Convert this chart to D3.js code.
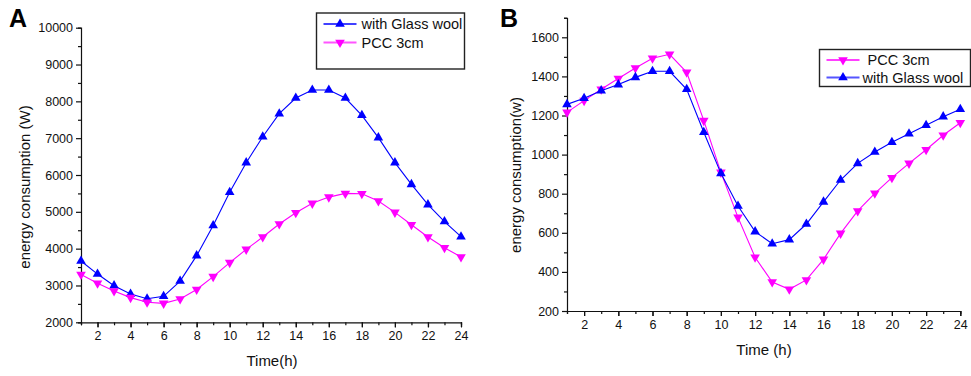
<!DOCTYPE html>
<html>
<head>
<meta charset="utf-8">
<script src="https://cdn.jsdelivr.net/npm/d3@7"></script>
<style>
  body { margin: 0; background: #fff; }
  svg { font-family: "Liberation Sans", Arial, sans-serif; }
</style>
</head>
<body>
<svg id="chart" width="971" height="376"></svg>
<script>
// hours 1..24
var hours = d3.range(1, 25);

// panel A values (W)
var glassA = [3665, 3310, 2995, 2770, 2640, 2705, 3120, 3810, 4630, 5530, 6335, 7040,
  7665, 8090, 8310, 8310, 8090, 7620, 7015, 6335, 5745, 5195, 4735, 4325];
var pccA = [3300, 3060, 2850, 2670, 2545, 2515, 2635, 2890, 3240, 3620, 3980, 4315,
  4670, 4975, 5230, 5400, 5500, 5490, 5295, 4985, 4650, 4315, 4025, 3775];

// panel B values (w)
var pccB = [1216, 1276, 1334, 1389, 1443, 1493, 1513, 1421, 1174, 909, 679, 475,
  348, 311, 359, 464, 597, 712, 802, 882, 955, 1025, 1099, 1163];
var glassB = [1257, 1288, 1327, 1358, 1395, 1426, 1426, 1334, 1114, 904, 737, 606,
  544, 565, 645, 758, 870, 955, 1013, 1063, 1107, 1150, 1194, 1232];

var xTicks = [2, 4, 6, 8, 10, 12, 14, 16, 18, 20, 22, 24];
var yTicksA = [2000, 3000, 4000, 5000, 6000, 7000, 8000, 9000, 10000];
var yTicksB = [200, 400, 600, 800, 1000, 1200, 1400, 1600];

var blue = "#0000ff", magenta = "#ff00ff";
var svg = d3.select("#chart");
var markSize = 40;

function panel(cfg) {
  var g = svg.append("g");
  var x = d3.scaleLinear().domain([1, 24]).range([cfg.x0, cfg.x1]);
  var y = d3.scaleLinear().domain(cfg.yDomain).range([cfg.yBottom, cfg.yTop]);

  // x axis: major ticks labelled, minor on each hour
  var xa = g.append("g").attr("transform", "translate(0," + cfg.yBottom + ")")
    .call(d3.axisBottom(x).tickValues(hours).tickSize(3).tickFormat(""));
  xa.selectAll(".tick line").filter(function(d) { return d % 2 === 0; }).attr("y2", 5);
  g.append("g").attr("transform", "translate(0," + cfg.yBottom + ")")
    .call(d3.axisBottom(x).tickValues(xTicks).tickSize(5).tickPadding(4))
    .call(function(s) { s.select(".domain").remove(); });

  // y axis
  g.append("g").attr("transform", "translate(" + cfg.x0 + ",0)")
    .call(d3.axisLeft(y).tickValues(cfg.yMinor).tickSize(3).tickFormat(""));
  g.append("g").attr("transform", "translate(" + cfg.x0 + ",0)")
    .call(d3.axisLeft(y).tickValues(cfg.yTicks).tickSize(5).tickPadding(3).tickFormat(d3.format("d")))
    .call(function(s) { s.select(".domain").remove(); });

  g.selectAll(".domain, .tick line").attr("stroke", "#111").attr("stroke-width", 1.2);
  g.selectAll(".tick text").attr("font-size", 12.5).attr("fill", "#111")
    .attr("font-family", "Liberation Sans, Arial, sans-serif");

  // series
  cfg.series.forEach(function(s) {
    var line = d3.line().x(function(d, i) { return x(hours[i]); }).y(function(d) { return y(d); });
    g.append("path").datum(s.values).attr("d", line)
      .attr("fill", "none").attr("stroke", s.color).attr("stroke-width", 1.1);
    g.selectAll(null).data(s.values).enter().append("path")
      .attr("d", d3.symbol().type(d3.symbolTriangle).size(markSize))
      .attr("transform", function(d, i) {
        return "translate(" + x(hours[i]) + "," + y(d) + ")" + (s.down ? " rotate(180)" : "");
      })
      .attr("fill", s.color);
  });

  // labels
  g.append("text").attr("x", cfg.labelX).attr("y", 27).attr("font-size", 25)
    .attr("font-weight", "bold").attr("font-family", "Liberation Sans, Arial, sans-serif").text(cfg.letter);
  g.append("text").attr("x", cfg.xTitleX).attr("y", cfg.xTitleY).attr("text-anchor", "middle")
    .attr("font-size", 15).attr("fill", "#111").text(cfg.xTitle);
  g.append("text").attr("transform", "translate(" + cfg.yTitleX + "," + cfg.yTitleY + ") rotate(-90)")
    .attr("text-anchor", "middle").attr("font-size", 15).attr("fill", "#111").text(cfg.yTitle);

  // legend
  var L = cfg.legend;
  g.append("rect").attr("x", L.x).attr("y", L.y).attr("width", L.w).attr("height", L.h)
    .attr("fill", "#fff").attr("stroke", "#222").attr("stroke-width", 1.4);
  L.items.forEach(function(it, i) {
    var cy = L.y + L.firstY + i * L.step;
    g.append("line").attr("x1", L.x + 7).attr("x2", L.x + 40).attr("y1", cy).attr("y2", cy)
      .attr("stroke", it.color).attr("stroke-width", it.lw || 1.3);
    g.append("path").attr("d", d3.symbol().type(d3.symbolTriangle).size(markSize))
      .attr("transform", "translate(" + (L.x + 23.5) + "," + cy + ")" + (it.down ? " rotate(180)" : ""))
      .attr("fill", it.down ? magenta : blue);
    g.append("text").attr("x", L.x + it.tx).attr("y", cy + 5).attr("font-size", 14.5)
      .attr("fill", "#111").text(it.label);
  });
}

panel({
  letter: "A", labelX: 9,
  x0: 81, x1: 461, yBottom: 322.3, yTop: 27.7, yDomain: [2000, 10000],
  yTicks: yTicksA, yMinor: d3.range(2500, 10000, 1000),
  xTitle: "Time(h)", xTitleX: 272, xTitleY: 366,
  yTitle: "energy consumption (W)", yTitleX: 30, yTitleY: 187,
  series: [
    { values: glassA, color: blue, down: false },
    { values: pccA, color: magenta, down: true }
  ],
  legend: { x: 316.5, y: 13, w: 148, h: 56, firstY: 11, step: 18.5,
    items: [
      { label: "with Glass wool", color: blue, down: false, tx: 45 },
      { label: "PCC 3cm", color: "#ff55ff", down: true, tx: 45, lw: 1.8 }
    ] }
});

panel({
  letter: "B", labelX: 500,
  x0: 567, x1: 960.3, yBottom: 311, yTop: 17.75, yDomain: [200, 1700],
  yTicks: yTicksB, yMinor: d3.range(300, 1800, 200),
  xTitle: "Time (h)", xTitleX: 764, xTitleY: 355,
  yTitle: "energy consumption(w)", yTitleX: 521, yTitleY: 175,
  series: [
    { values: pccB, color: magenta, down: true },
    { values: glassB, color: blue, down: false }
  ],
  legend: { x: 819.5, y: 49.5, w: 151, h: 37, firstY: 10.5, step: 17.5,
    items: [
      { label: "PCC 3cm", color: magenta, down: true, tx: 48 },
      { label: "with Glass wool", color: "#5555ff", down: false, tx: 43, lw: 2 }
    ] }
});
</script>
</body>
</html>
